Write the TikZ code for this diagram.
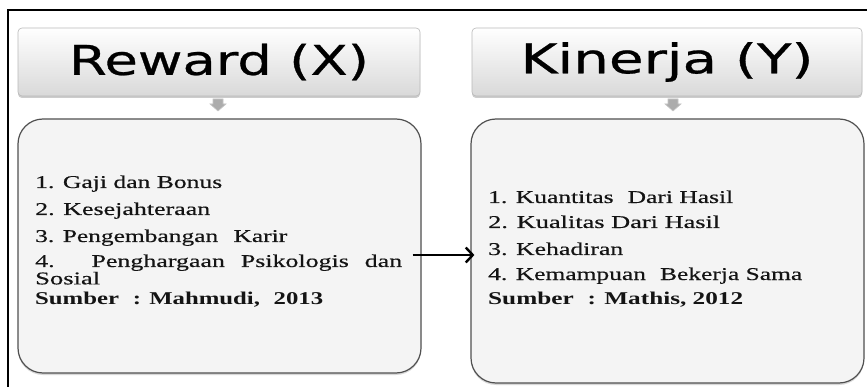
\documentclass[tikz,border=0pt]{standalone}
\usepackage{fontspec}
\usepackage{graphicx}
\setmainfont{Liberation Serif}
\newfontfamily\bodyfont[FakeBold=0.35]{Liberation Serif}
\newfontfamily\justfont[FakeStretch=1.44,FakeBold=0.35]{Liberation Serif}
\newfontfamily\boldbody{Liberation Serif Bold}
\newfontfamily\titlefont[FakeBold=0.6]{DejaVu Sans}
\newcommand{\fitw}[2]{\resizebox{#1}{\height}{#2}}
\usetikzlibrary{arrows.meta,shadows}
\definecolor{boxfill}{HTML}{F4F4F4}
\definecolor{boxline}{HTML}{505050}
\definecolor{txt}{HTML}{141414}
\tikzset{
  titlebox/.style={draw=gray!55, line width=0.6pt, rounded corners=4pt,
    top color=white, bottom color=gray!30, inner sep=0pt,
    drop shadow={shadow xshift=0pt, shadow yshift=-2pt, opacity=0.4},
    font=\titlefont\fontsize{41}{41}\selectfont, text=black},
  contentbox/.style={draw=boxline, line width=1.2pt, rounded corners=25pt,
    fill=boxfill, inner sep=0pt,
    drop shadow={shadow xshift=0pt, shadow yshift=-2pt, opacity=0.3}},
  itemline/.style={anchor=base west, inner sep=0pt, text=txt,
    font=\bodyfont\fontsize{18}{16}\selectfont},
  sourceline/.style={anchor=base west, inner sep=0pt, text=txt,
    font=\boldbody\fontsize{18}{16}\selectfont},
  downarrow/.style={fill=gray!65, draw=gray!45, line width=0.6pt},
  connector/.style={line width=2.8pt, -{Straight Barb[length=7pt,width=15pt,line width=2.4pt]}}
}
\begin{document}
\begin{tikzpicture}[x=1pt,y=-1pt]
\useasboundingbox (0,0) rectangle (867,387);
\clip (0,0) rectangle (867,387);
\fill[white] (0,0) rectangle (867,387);
\draw[line width=2.6pt] (8,10) rectangle (900,420);

% title boxes
\node[titlebox, minimum width=402pt, minimum height=68pt] (tx) at (219,62) {\fitw{300pt}{Reward (X)}};
\node[titlebox, minimum width=390pt, minimum height=68pt] (ty) at (667,62) {\fitw{293pt}{Kinerja (Y)}};

% small down arrows
\fill[downarrow] (213,99) -- (223,99) -- (223,104) -- (226,104) -- (218,111) -- (210,104) -- (213,104) -- cycle;
\fill[downarrow] (668,99) -- (678,99) -- (678,104) -- (681,104) -- (673,111) -- (665,104) -- (668,104) -- cycle;

% content boxes
\node[contentbox, minimum width=403pt, minimum height=254pt] (cl) at (219.5,246) {};
\node[contentbox, minimum width=393pt, minimum height=264pt] (cr) at (667.5,251) {};

% left texts
\node[itemline] (l1) at (35,188) {\fitw{187pt}{1. Gaji dan Bonus}};
\node[itemline] (l2) at (35,215) {\fitw{175pt}{2. Kesejahteraan}};
\node[itemline] (l3) at (35,242) {\fitw{252pt}{3. Pengembangan\hspace{0.35em} Karir}};
\node[itemline] (l4) at (35,267) {\parbox[t]{367pt}{\justfont\makebox[367pt][s]{4. Penghargaan Psikologis dan}\\\fitw{65pt}{\bodyfont Sosial}}};
\node[sourceline] (l6) at (35,305) {\fitw{288pt}{Sumber\hspace{0.3em} : Mahmudi,\hspace{0.3em} 2013}};

% right texts
\node[itemline] (r1) at (488,203) {\fitw{245pt}{1. Kuantitas\hspace{0.3em} Dari Hasil}};
\node[itemline] (r2) at (488,228) {\fitw{232pt}{2. Kualitas Dari Hasil}};
\node[itemline] (r3) at (488,255) {\fitw{135pt}{3. Kehadiran}};
\node[itemline] (r4) at (488,280) {\fitw{314pt}{4. Kemampuan\hspace{0.3em} Bekerja Sama}};
\node[sourceline] (r5) at (488,305) {\fitw{255pt}{Sumber\hspace{0.3em} : Mathis, 2012}};

% connector
\draw[connector] ([xshift=-9pt,yshift=-9pt]cl.east) -- ([xshift=4pt,yshift=-4pt]cr.west);
\end{tikzpicture}
\end{document}
